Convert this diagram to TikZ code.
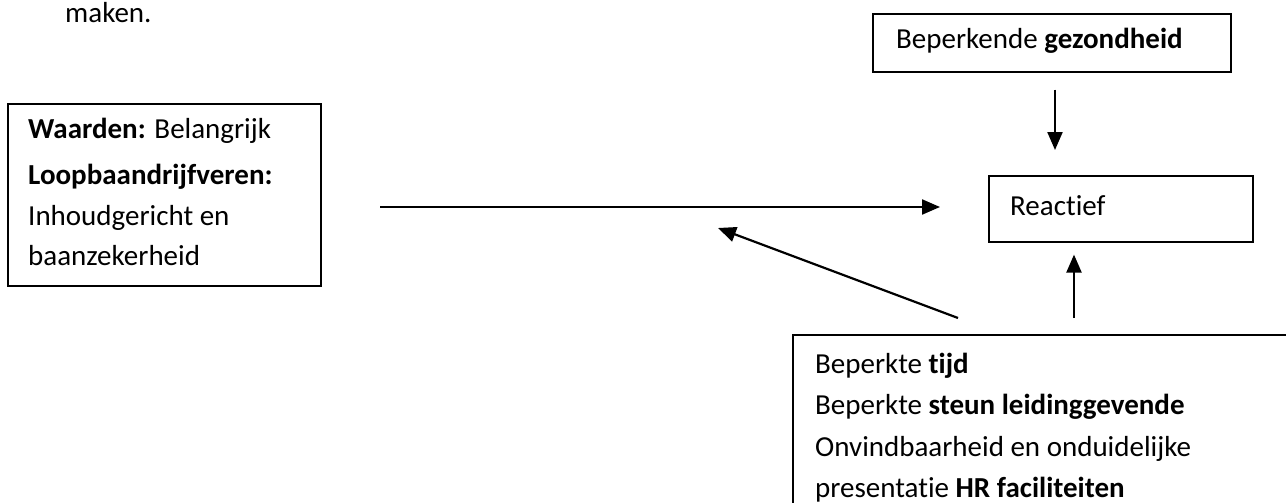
\documentclass[tikz,border=0pt]{standalone}
\usepackage{fontspec}
\setmainfont{Carlito}[Ligatures=NoCommon]
\usetikzlibrary{arrows.meta}
\begin{document}
\begin{tikzpicture}[x=1pt,y=-1pt,
  box/.style={draw=black,line width=1.6pt,inner sep=0pt,anchor=north west},
  txt/.style={inner sep=0pt,anchor=base west,font=\fontsize{29}{40}\selectfont},
  conn/.style={line width=2.2pt,-{Triangle[length=18pt,width=15pt]}}]
\useasboundingbox (0,0) rectangle (1286,503);
\clip (0,0) rectangle (1286,503);

% preceding paragraph fragment
\node[txt] (maken) at (65,23) {maken.};

% boxes
\node[box,minimum width=313pt,minimum height=182pt] (waarden) at (7,103) {};
\node[box,minimum width=358pt,minimum height=58pt] (gezond) at (872,13) {};
\node[box,minimum width=264pt,minimum height=66pt] (reactief) at (988,175) {};
\node[box,minimum width=560pt,minimum height=260pt] (beperkt) at (792,334) {};

% box texts
\node[txt] (t1) at (28,139) {\textbf{Waarden:} Belangrijk};
\node[txt] (t2) at (28,184) {\textbf{Loopbaandrijfveren:}};
\node[txt] (t3) at (28,225) {Inhoudgericht en};
\node[txt] (t4) at (28,265) {baanzekerheid};

\node[txt] (g1) at (896,49) {Beperkende \textbf{gezondheid}};
\node[txt] (r1) at (1010,215) {Reactief};

\node[txt] (b1) at (815,373) {Beperkte \textbf{tijd}};
\node[txt] (b2) at (815,414) {Beperkte \textbf{steun leidinggevende}};
\node[txt] (b3) at (815,456) {Onvindbaarheid en onduidelijke};
\node[txt] (b4) at (815,497) {presentatie \textbf{HR faciliteiten}};

% free ends of the connectors
\coordinate (hstart) at (380,207);
\coordinate (hend) at (940,207);
\coordinate (dstart) at (958,318);
\coordinate (dend) at (718,228);

\draw[conn] (hstart) -- (hend);
\draw[conn] (dstart) -- (dend);
\draw[conn,shorten <=17pt,shorten >=25pt] (gezond.south -| 1055,0) -- (reactief.north -| 1055,0);
\draw[conn,shorten <=16pt,shorten >=12pt] (beperkt.north -| 1074,0) -- (reactief.south -| 1074,0);
\end{tikzpicture}
\end{document}
